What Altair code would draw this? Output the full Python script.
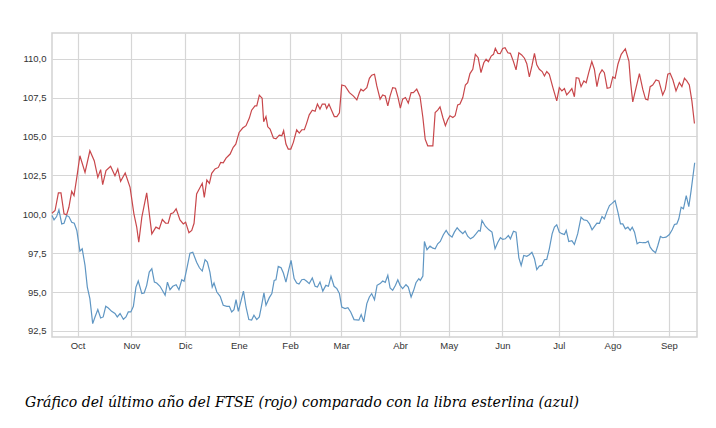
import altair as alt
import pandas as pd

# FTSE 100 y libra esterlina, base 100, sesiones bursátiles sep-2016 a sep-2017
ftse_sesion = [
    0.0, 1.2, 2.5, 3.5, 4.7, 5.7, 6.6, 7.7, 8.6, 9.7, 10.9, 12.9, 14.8, 16.5, 17.9, 19.0,
    19.8, 21.1, 22.9, 24.6, 25.7, 26.8, 28.6, 30.5, 32.0, 33.1, 33.9, 35.1, 37.0, 39.0,
    40.6, 41.9, 43.1, 44.4, 45.4, 46.4, 47.4, 48.5, 50.0, 51.3, 52.2, 53.5, 54.6, 55.5,
    56.5, 58.7, 59.5, 60.5, 61.5, 62.4, 63.7, 65.0, 65.9, 66.9, 68.0, 69.6, 70.8, 71.8,
    73.1, 74.5, 75.8, 77.1, 78.0, 79.3, 80.0, 81.0, 82.1, 82.7, 83.6, 84.3, 85.2, 86.5,
    87.5, 88.8, 89.8, 90.5, 91.4, 92.3, 93.3, 94.3, 95.6, 96.6, 97.6, 98.6, 99.5, 100.5,
    101.7, 102.8, 103.7, 104.7, 105.6, 106.7, 107.3, 108.2, 109.3, 110.3, 111.3, 112.3,
    113.2, 114.5, 116.2, 117.7, 119.1, 120.1, 120.7, 121.6, 123.0, 124.0, 124.9, 126.0,
    126.9, 128.2, 129.2, 130.2, 131.2, 132.1, 133.1, 134.2, 135.2, 136.1, 137.0, 138.1,
    139.2, 140.3, 141.2, 142.5, 143.8, 144.9, 145.8, 146.8, 147.7, 148.8, 149.7, 150.7,
    151.6, 152.7, 153.7, 154.6, 155.5, 156.6, 157.5, 158.5, 159.4, 160.5, 161.5, 162.4,
    163.3, 164.4, 165.4, 166.5, 167.6, 168.7, 169.6, 170.5, 171.6, 172.5, 173.2, 174.2,
    175.1, 176.1, 177.0, 178.1, 179.1, 180.3, 181.3, 182.4, 183.5, 184.6, 185.5, 186.5,
    187.5, 188.5, 189.4, 190.4, 191.5, 192.4, 193.3, 194.3, 195.7, 197.2, 198.2, 199.2,
    200.2, 201.1, 202.2, 203.1, 204.1, 204.8, 205.8, 206.7, 207.8, 208.7, 209.7, 210.9,
    211.9, 212.9, 213.9, 214.9, 215.8, 216.9, 218.1, 219.1, 220.0, 221.1, 222.4, 224.0,
    225.4, 226.0, 226.9, 228.2, 229.5, 230.8, 231.9, 232.8, 233.7, 234.7, 236.0, 237.1,
    238.6, 239.6, 240.6, 241.5, 242.6, 243.8, 245.1, 246.1, 247.1, 248.0, 249.0, 250.0,
    251.0,
]
ftse_valor = [
    100.06, 100.24, 101.37, 101.37, 100.03, 99.96, 100.45, 101.47, 101.2, 102.37, 103.76,
    102.69, 104.08, 103.44, 102.37, 102.87, 101.9, 102.8, 103.08, 102.48, 102.91, 102.12,
    102.65, 101.73, 100.03, 99.17, 98.2, 99.81, 101.37, 98.74, 99.17, 99.06, 99.66, 99.42,
    99.42, 100.03, 100.09, 100.35, 99.64, 99.38, 99.49, 98.81, 98.96, 99.42, 101.31, 101.99,
    101.09, 102.2, 101.99, 102.63, 102.91, 103.01, 103.33, 103.3, 103.61, 103.87, 104.3,
    104.5, 105.26, 105.54, 105.69, 106.18, 106.69, 106.97, 106.97, 107.65, 107.46, 105.94,
    106.28, 105.62, 105.47, 104.9, 104.85, 105.09, 105.05, 105.37, 104.51, 104.19, 104.19,
    104.62, 105.43, 105.22, 105.43, 105.43, 105.86, 106.39, 106.69, 106.62, 107.08, 106.76,
    107.08, 107.08, 106.8, 107.08, 106.65, 106.28, 106.28, 106.52, 108.31, 108.25, 107.82,
    107.61, 107.35, 107.82, 108.04, 107.93, 108.14, 108.74, 108.94, 109.0, 108.25, 107.4,
    107.67, 107.6, 106.97, 107.61, 108.14, 108.1, 107.5, 106.82, 107.4, 107.5, 107.14,
    107.82, 107.82, 108.04, 107.55, 106.22, 104.83, 104.4, 104.4, 104.4, 106.54, 106.69,
    106.9, 106.22, 105.69, 106.07, 106.33, 106.22, 106.33, 107.03, 107.08, 107.5, 108.31,
    108.46, 109.04, 109.32, 110.28, 110.06, 109.1, 109.74, 109.96, 109.8, 110.17, 110.28,
    110.66, 110.34, 110.32, 110.66, 110.71, 110.38, 110.34, 109.81, 109.28, 110.38, 110.24,
    110.03, 109.68, 108.83, 109.53, 110.34, 109.6, 109.32, 109.17, 108.89, 109.17, 109.0,
    108.14, 107.29, 108.14, 107.93, 108.08, 107.67, 107.88, 108.08, 107.55, 108.78, 108.74,
    108.2, 108.57, 108.46, 109.1, 109.81, 109.32, 108.2, 109.0, 109.28, 109.1, 108.1,
    108.14, 108.83, 108.74, 109.64, 110.28, 110.64, 109.85, 108.57, 107.22, 108.14, 109.04,
    108.04, 107.4, 107.35, 108.2, 108.31, 108.63, 108.57, 107.67, 108.04, 109.0, 109.06,
    108.63, 107.93, 108.46, 108.2, 108.74, 108.57, 108.31, 107.29, 105.83,
]

libra_sesion = [
    0.0, 0.8, 1.8, 2.7, 3.8, 4.7, 5.7, 6.6, 7.7, 8.7, 9.7, 10.9, 11.8, 12.9, 13.8, 14.8,
    15.9, 16.8, 17.9, 19.0, 20.0, 21.0, 22.0, 23.3, 24.6, 25.5, 26.6, 27.9, 28.9, 29.8,
    30.8, 31.8, 32.8, 33.7, 35.1, 36.0, 37.0, 38.0, 39.0, 40.0, 40.9, 42.2, 43.5, 44.2,
    45.1, 46.1, 47.2, 48.5, 49.6, 50.7, 51.6, 52.6, 53.9, 55.0, 56.5, 57.6, 58.7, 59.8,
    60.7, 61.7, 62.6, 63.3, 64.4, 65.7, 66.9, 68.3, 69.3, 70.2, 71.1, 71.9, 72.8, 73.9,
    74.8, 75.8, 76.9, 78.0, 78.9, 80.0, 81.0, 81.9, 82.8, 83.6, 84.9, 85.9, 86.8, 87.5,
    88.4, 89.5, 90.4, 91.4, 92.5, 93.4, 94.6, 95.6, 96.5, 97.6, 98.5, 99.5, 100.5, 101.7,
    102.8, 103.7, 104.7, 105.8, 107.0, 108.0, 109.0, 110.2, 111.3, 112.3, 113.2, 114.5,
    115.6, 116.7, 118.0, 119.9, 120.8, 121.8, 123.0, 124.0, 124.9, 126.0, 127.0, 128.2,
    129.2, 130.2, 131.2, 132.1, 133.1, 134.2, 135.1, 136.0, 137.0, 138.3, 139.2, 140.3,
    141.3, 142.2, 143.3, 143.9, 144.9, 145.5, 146.5, 147.7, 148.8, 149.7, 150.7, 151.7,
    152.9, 154.0, 155.0, 156.3, 157.2, 158.3, 159.4, 160.5, 161.4, 162.4, 163.5, 164.6,
    165.7, 166.7, 167.3, 168.0, 169.3, 170.7, 171.9, 173.1, 174.2, 175.2, 176.1, 177.1,
    178.3, 179.1, 180.3, 181.3, 182.4, 183.3, 184.3, 185.5, 186.5, 187.5, 188.5, 189.4,
    190.4, 191.4, 192.4, 193.3, 194.3, 195.4, 196.3, 197.2, 198.2, 199.2, 200.2, 200.9,
    201.9, 203.1, 204.1, 205.4, 206.7, 207.8, 209.0, 210.0, 211.0, 211.9, 212.9, 213.9,
    214.9, 215.8, 216.8, 217.8, 218.8, 220.0, 221.1, 222.1, 223.0, 224.0, 225.0, 225.9,
    226.7, 227.6, 228.6, 229.5, 230.8, 231.9, 232.9, 233.7, 234.7, 235.8, 236.7, 237.7,
    238.6, 239.9, 241.2, 242.3, 243.2, 244.1, 244.9, 245.8, 246.7, 247.8, 248.8, 249.7,
    251.1,
]
libra_valor = [
    99.92, 99.64, 99.85, 100.28, 99.38, 99.42, 99.92, 99.85, 99.49, 99.42, 98.96, 97.63,
    97.78, 96.71, 95.32, 94.58, 92.97, 93.4, 93.87, 93.33, 93.4, 94.08, 93.97, 93.76,
    93.62, 93.4, 93.62, 93.25, 93.4, 93.72, 93.72, 94.08, 95.32, 95.71, 94.9, 94.94,
    95.43, 96.28, 96.5, 95.64, 95.58, 95.37, 95.0, 94.79, 95.64, 95.15, 95.37, 95.47,
    95.15, 95.79, 95.69, 96.44, 97.5, 97.56, 96.92, 96.56, 96.35, 97.08, 96.92, 96.28,
    95.32, 95.58, 95.0, 94.72, 94.15, 94.08, 94.08, 93.72, 93.87, 94.51, 93.76, 94.47,
    95.06, 94.04, 93.23, 93.2, 93.51, 93.23, 93.4, 94.15, 94.94, 94.15, 94.64, 94.9,
    95.75, 95.79, 96.65, 96.56, 96.22, 95.64, 96.44, 97.03, 95.86, 95.58, 95.51, 95.79,
    95.82, 95.69, 95.54, 95.9, 95.37, 95.32, 95.64, 95.06, 95.43, 95.37, 96.01, 95.37,
    95.22, 94.9, 94.04, 93.94, 94.0, 93.72, 93.23, 93.19, 93.55, 93.08, 94.26, 94.68,
    94.9, 94.51, 95.43, 95.54, 95.71, 95.62, 96.07, 95.26, 95.11, 95.43, 95.79, 95.43,
    95.22, 95.47, 95.32, 94.68, 95.11, 95.6, 95.86, 95.75, 96.03, 98.25, 97.72, 97.95,
    97.82, 97.78, 98.1, 98.25, 98.68, 98.96, 98.7, 98.53, 98.85, 99.13, 98.92, 98.75,
    98.92, 98.59, 98.42, 98.53, 98.75, 98.96, 98.92, 99.6, 99.23, 99.0, 98.85, 97.78,
    98.2, 98.49, 98.38, 98.42, 98.63, 98.42, 98.91, 98.85, 97.2, 96.71, 97.35, 97.3,
    97.4, 97.56, 97.14, 96.44, 96.67, 96.71, 97.08, 97.1, 97.78, 98.74, 99.17, 99.32,
    98.85, 98.75, 98.7, 98.96, 98.25, 98.3, 98.06, 98.75, 99.81, 99.64, 99.6, 99.38,
    99.0, 99.2, 99.43, 99.42, 99.85, 99.7, 100.17, 100.56, 100.7, 100.88, 100.13, 99.38,
    99.38, 99.06, 99.17, 98.96, 99.17, 98.85, 98.1, 98.2, 98.17, 98.17, 98.27, 97.88,
    97.67, 97.52, 97.99, 98.57, 98.49, 98.53, 98.7, 99.0, 99.34, 99.38, 99.71, 100.45,
    100.35, 101.2, 100.49, 101.52, 103.31,
]

# primera sesión de cada mes y su etiqueta
mes_sesion = [10, 31, 52, 73, 93, 113, 136, 155, 176, 198, 219, 241]
mes_nombre = ["Oct", "Nov", "Dic", "Ene", "Feb", "Mar", "Abr", "May", "Jun", "Jul", "Ago", "Sep"]

df = pd.concat([
    pd.DataFrame({"sesion": ftse_sesion, "valor": ftse_valor, "serie": "FTSE"}),
    pd.DataFrame({"sesion": libra_sesion, "valor": libra_valor, "serie": "Libra"}),
])

etiqueta_mes = "{}[indexof({}, datum.value)]".format(
    "[" + ",".join(f"'{m}'" for m in mes_nombre) + "]",
    "[" + ",".join(str(s) for s in mes_sesion) + "]",
)

chart = alt.Chart(df).mark_line(strokeWidth=1.2).encode(
    x=alt.X("sesion:Q", title=None,
            scale=alt.Scale(domain=[0, 252], nice=False, zero=False),
            axis=alt.Axis(values=mes_sesion, labelExpr=etiqueta_mes, ticks=False,
                          domain=False, labelPadding=3)),
    y=alt.Y("valor:Q", title=None,
            scale=alt.Scale(domain=[92.11, 111.65], nice=False, zero=False),
            axis=alt.Axis(values=[92.5, 95, 97.5, 100, 102.5, 105, 107.5, 110],
                          labelExpr="replace(format(datum.value, '.1f'), '.', ',')",
                          ticks=False, domain=False, labelPadding=6)),
    color=alt.Color("serie:N", legend=None,
                    scale=alt.Scale(domain=["FTSE", "Libra"], range=["#c8474b", "#5f96c3"])),
    order=alt.Order("sesion:Q"),
).properties(
    width=645,
    height=304,
    autosize=alt.AutoSizeParams(type="none"),
    padding={"left": 44, "top": 25, "right": 11, "bottom": 80},
    title=alt.TitleParams(
        "Gráfico del último año del FTSE (rojo) comparado con la libra esterlina (azul)",
        orient="bottom", anchor="start", frame="group", dx=-27, offset=46,
        font="DejaVu Serif", fontStyle="italic", fontWeight="normal",
        fontSize=14.1, color="#000000",
    ),
).configure_view(
    stroke="#d2d2d2", strokeWidth=1.5,
).configure_axis(
    grid=True, gridColor="#d6d6d6", gridWidth=1.2,
    labelFont="Liberation Sans", labelFontSize=9.5, labelColor="#333333",
)

chart.save("out.html", embed_options={"renderer": "svg", "actions": False})
